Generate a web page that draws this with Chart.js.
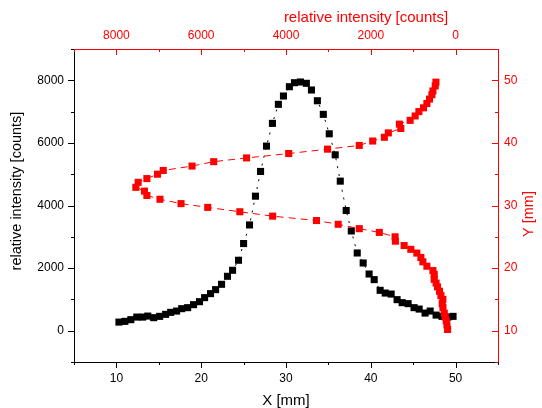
<!DOCTYPE html>
<html>
<head>
<meta charset="utf-8">
<script src="https://cdn.jsdelivr.net/npm/chart.js@4.4.1/dist/chart.umd.min.js"></script>
<style>
  html, body { margin: 0; padding: 0; background: #fff; }
  #wrap { width: 542px; height: 408px; }
</style>
</head>
<body>
<div id="wrap"><canvas id="plot" width="542" height="408"></canvas></div>
<script>
// ================= DATA: profile along X (black) =================
const xPos = [10.3, 11.0, 11.7, 12.4, 13.1, 13.7, 14.4, 15.1, 15.8, 16.4,
  17.1, 17.7, 18.4, 19.1, 19.8, 20.4, 21.1, 21.7, 22.4, 23.1,
  23.7, 24.4, 25.0, 25.7, 26.4, 27.0, 27.7, 28.4, 29.1, 29.7,
  30.4, 31.0, 31.7, 32.4, 33.0, 33.7, 34.4, 35.1, 35.8, 36.4,
  37.1, 37.7, 38.4, 39.1, 39.8, 40.4, 41.1, 41.7, 42.4, 43.1,
  43.7, 44.4, 45.1, 45.7, 46.4, 47.0, 47.7, 48.4, 49.1, 49.7];
const xCounts = [275, 298, 352, 435, 435, 467, 416, 458, 522, 586,
  627, 704, 736, 832, 928, 1056, 1184, 1312, 1482, 1738,
  1930, 2250, 2784, 3379, 4298, 5088, 5898, 6624, 7232, 7498,
  7795, 7923, 7946, 7904, 7690, 7347, 6912, 6291, 5619, 4778,
  3840, 3187, 2483, 2163, 1811, 1632, 1290, 1203, 1171, 992,
  896, 864, 736, 691, 563, 627, 499, 458, 435, 458];

// ================= DATA: profile along Y (red) =================
const yPos = [10.2, 10.9, 11.6, 12.2, 12.8, 13.7, 14.3, 15.0, 15.6, 16.3,
  17.0, 17.6, 18.2, 19.0, 19.6, 20.3, 21.0, 21.7, 22.4, 23.0,
  23.6, 24.3, 25.0, 25.7, 26.3, 27.0, 27.6, 28.3, 29.0, 29.7,
  30.3, 31.0, 31.6, 32.3, 32.9, 33.7, 34.3, 35.0, 35.6, 36.3,
  37.0, 37.6, 38.3, 39.0, 39.6, 40.3, 40.9, 41.6, 42.3, 43.0,
  43.6, 44.3, 45.0, 45.6, 46.3, 47.0, 47.7, 48.3, 49.1, 49.7];
const yCounts = [189, 204, 220, 245, 267, 298, 315, 300, 346, 379,
  426, 460, 504, 504, 535, 677, 772, 819, 914, 1056,
  1214, 1420, 1427, 1799, 2272, 2769, 3281, 4315, 5089, 5846,
  6476, 6973, 7281, 7338, 7541, 7487, 7281, 7030, 6895, 6216,
  5705, 4930, 3936, 3020, 2272, 1955, 1680, 1586, 1292, 1326,
  1072, 954, 866, 757, 677, 615, 559, 535, 480, 464];

// ================= TICKS =================
const mmTicks = [10, 20, 30, 40, 50];
const mmMinor = [5, 15, 25, 35, 45, 55];
const countTicks = [0, 2000, 4000, 6000, 8000];
const countMinor = [-1000, 1000, 3000, 5000, 7000, 9000];

const RED = "#ff0000";
const FONT = "'Liberation Sans', Arial, sans-serif";

// ================= PLUGINS =================
// Origin style tick marks: outward on left/bottom, inward on top/right
function strokeTicks(ctx, scale, values, len) {
  const a = scale.chart.chartArea;
  ctx.beginPath();
  values.forEach(v => {
    const p = Math.round(scale.getPixelForValue(v)) + 0.5;
    if (scale.position === "bottom") { ctx.moveTo(p, a.bottom); ctx.lineTo(p, a.bottom + len); }
    else if (scale.position === "top") { ctx.moveTo(p, a.top); ctx.lineTo(p, a.top - len); }
    else if (scale.position === "left") { ctx.moveTo(a.left, p); ctx.lineTo(a.left - len, p); }
    else { ctx.moveTo(a.right, p); ctx.lineTo(a.right + len, p); }
  });
  ctx.stroke();
}

const tickMarks = {
  id: "tickMarks",
  afterDraw(chart) {
    const ctx = chart.ctx;
    const s = chart.scales;
    ctx.save();
    ctx.lineWidth = 1;
    ctx.strokeStyle = "#000";
    strokeTicks(ctx, s.x, mmTicks, 6);
    strokeTicks(ctx, s.x, mmMinor, 3);
    strokeTicks(ctx, s.y, countTicks, 6);
    strokeTicks(ctx, s.y, countMinor, 3);
    ctx.strokeStyle = RED;
    strokeTicks(ctx, s.x2, countTicks, -6);
    strokeTicks(ctx, s.x2, countMinor, -3);
    strokeTicks(ctx, s.y2, mmTicks, -6);
    strokeTicks(ctx, s.y2, mmMinor, -3);
    ctx.restore();
  }
};

const axisTitles = {
  id: "axisTitles",
  afterDraw(chart) {
    const ctx = chart.ctx;
    const a = chart.chartArea;
    ctx.save();
    ctx.textAlign = "center";
    ctx.textBaseline = "middle";

    ctx.font = "15px " + FONT;
    ctx.fillStyle = "#000";
    ctx.fillText("X [mm]", (a.left + a.right) / 2, a.bottom + 39);
    ctx.fillStyle = RED;
    ctx.fillText("relative intensity [counts]", a.left + 292, a.top - 31);

    ctx.font = "14.5px " + FONT;
    ctx.fillStyle = "#000";
    ctx.save();
    ctx.translate(a.left - 57, a.top + 142);
    ctx.rotate(-Math.PI / 2);
    ctx.fillText("relative intensity [counts]", 0, 0);
    ctx.restore();

    ctx.fillStyle = RED;
    ctx.translate(a.right + 31, a.top + 165);
    ctx.rotate(-Math.PI / 2);
    ctx.fillText("Y [mm]", 0, 0);
    ctx.restore();
  }
};

// ================= SCALES =================
function fixedTicks(list) {
  return scale => { scale.ticks = list.map(v => ({ value: v })); };
}

function axis(position, min, max, list, color, pad, size, reverse) {
  const horiz = position === "top" || position === "bottom";
  return {
    type: "linear",
    position: position,
    min: min,
    max: max,
    reverse: !!reverse,
    afterBuildTicks: fixedTicks(list),
    afterFit: scale => { if (horiz) scale.height = size; else scale.width = size; },
    grid: { display: true, drawOnChartArea: false, drawTicks: false },
    border: { display: true, color: color, width: 1 },
    ticks: {
      color: color,
      padding: pad,
      maxRotation: 0,
      autoSkip: false,
      font: { family: FONT, size: 12 },
      callback: v => String(v)
    }
  };
}

// ================= CHART =================
const ctx = document.getElementById("plot").getContext("2d");

const profileChart = new Chart(ctx, {
  type: "scatter",
  data: {
    datasets: [{
      label: "Y profile",
      data: yPos.map((y, i) => ({ x: yCounts[i], y: y })),
      xAxisID: "x2",
      yAxisID: "y2",
      showLine: true,
      borderColor: RED,
      backgroundColor: RED,
      borderWidth: 1,
      borderDash: [7, 5],
      pointStyle: "rect",
      pointRadius: 5,
      pointBorderWidth: 0
    }, {
      label: "X profile",
      data: xPos.map((x, i) => ({ x: x, y: xCounts[i] })),
      xAxisID: "x",
      yAxisID: "y",
      showLine: true,
      borderColor: "#000",
      backgroundColor: "#000",
      borderWidth: 1,
      borderDash: [2, 6],
      pointStyle: "rect",
      pointRadius: 5,
      pointBorderWidth: 0
    }]
  },
  options: {
    responsive: false,
    animation: false,
    devicePixelRatio: 1,
    layout: { padding: 0 },
    plugins: { legend: { display: false }, tooltip: { enabled: false } },
    scales: {
      x: axis("bottom", 5, 55, mmTicks, "#000", 9, 46),
      x2: axis("top", -1000, 9000, countTicks, RED, 6, 49, true),
      y: axis("left", -1000, 9000, countTicks, "#000", 10, 74),
      y2: axis("right", 5, 55, mmTicks, RED, 6, 44)
    }
  },
  plugins: [tickMarks, axisTitles]
});
</script>
</body>
</html>
